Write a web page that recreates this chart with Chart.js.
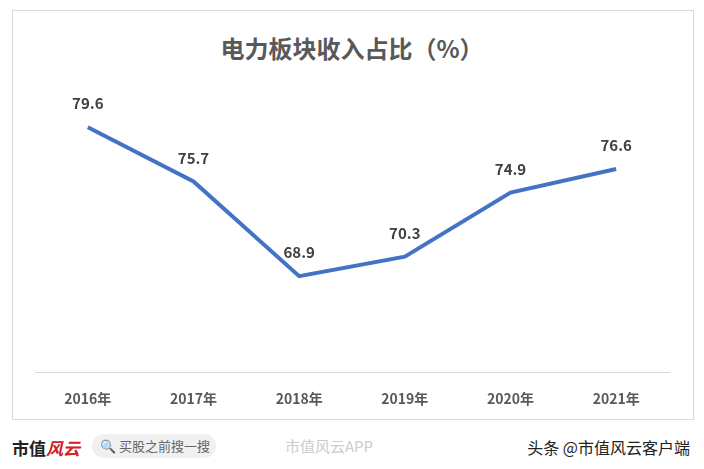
<!DOCTYPE html>
<html><head><meta charset="utf-8">
<script src="https://cdn.jsdelivr.net/npm/chart.js@4"></script>
<style>
body{margin:0;width:704px;height:469px;background:#fff;font-family:"Noto Sans CJK SC",sans-serif;position:relative;overflow:hidden}
#box{position:absolute;left:12px;top:10px;width:680px;height:408px;border:1px solid #d9d9d9}
#wrap{position:absolute;left:0;top:0;width:704px;height:425px}
#title{position:absolute;top:30px;width:704px;text-align:center;font-size:24px;font-weight:bold;color:#595959}
#foot{position:absolute;top:425px;left:0;width:704px;height:44px}
</style></head><body>
<div id="box"></div>
<div id="title">电力板块收入占比（%）</div>
<div id="wrap"><canvas id="c" width="704" height="425"></canvas></div>
<div id="foot">
<div style="position:absolute;left:12px;top:10px;font-size:17px;font-weight:bold;color:#222">市值<span style="color:#d0202a;font-style:italic">风云</span></div>
<div style="position:absolute;left:92px;top:9px;width:124px;height:24px;border-radius:12px;background:#f0f0f0;color:#666;font-size:13px;line-height:24px;padding-left:8px;box-sizing:border-box">🔍 买股之前搜一搜</div>
<div style="position:absolute;left:285px;top:10px;font-size:15px;color:#ccc">市值风云APP</div>
<div style="position:absolute;right:14px;top:10px;font-size:16px;color:#222">头条 @市值风云客户端</div>
</div>
<script>
const categories=["2016年","2017年","2018年","2019年","2020年","2021年"];
const values=[79.6,75.7,68.9,70.3,74.9,76.6];
const labelsPlugin={id:'lbl',afterDatasetsDraw(ch){const c=ch.ctx;const m=ch.getDatasetMeta(0);c.save();c.font='bold 15px "Noto Sans CJK SC",sans-serif';c.fillStyle='#404040';c.textAlign='center';c.textBaseline='bottom';m.data.forEach((p,i)=>{c.fillText(values[i].toFixed(1),p.x,p.y-16);});c.restore();}};
new Chart(document.getElementById('c'),{type:'line',data:{labels:categories,datasets:[{data:values,borderColor:'#4472c4',borderWidth:4,pointRadius:0,tension:0}]},
options:{responsive:false,animation:false,layout:{padding:{left:35,right:35,top:66,bottom:8}},
plugins:{legend:{display:false},tooltip:{enabled:false}},
scales:{y:{display:false,min:62,max:84},x:{offset:true,grid:{display:false},border:{color:'#d9d9d9',width:1},ticks:{color:'#595959',font:{size:14,weight:'bold',family:'"Noto Sans CJK SC",sans-serif'},padding:10}}}},plugins:[labelsPlugin]});
</script></body></html>
